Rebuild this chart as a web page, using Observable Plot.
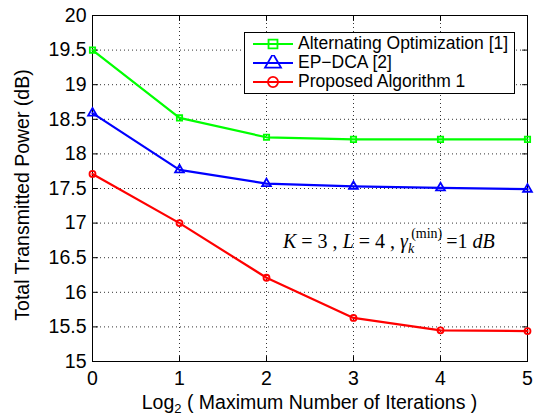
<!DOCTYPE html>
<html>
<head>
<meta charset="utf-8">
<script src="https://cdn.jsdelivr.net/npm/d3@7"></script>
<script src="https://cdn.jsdelivr.net/npm/@observablehq/plot@0.6"></script>
<style>
  body { margin: 0; background: #fff; }
  #chart { position: relative; width: 540px; height: 418px; font-family: "Liberation Sans", Arial, sans-serif; }
  #legend { position: absolute; left: 244px; top: 32px; width: 271px; height: 62px; border: 1px solid #000; background: #fff; box-sizing: border-box; padding-top: 1px; }
  .row { display: flex; align-items: center; height: 19px; font-size: 17.5px; color: #000; }
  .row svg { margin-left: 8px; margin-right: 5px; }
</style>
</head>
<body>
<div id="chart"></div>
<script>
// ---- data ----
const iterations = [0, 1, 2, 3, 4, 5];
const alternatingOpt = [19.5, 18.52, 18.24, 18.21, 18.21, 18.21];
const epDca = [18.59, 17.77, 17.57, 17.53, 17.51, 17.49];
const proposedAlg = [17.71, 17.0, 16.21, 15.63, 15.45, 15.44];
const seriesNames = ["Alternating Optimization [1]", "EP\u2212DCA [2]", "Proposed Algorithm 1"];
const seriesColors = ["#00ff00", "#0000ff", "#ff0000"];
const seriesSymbols = ["square", "triangle", "circle"];
const xTicks = [0, 1, 2, 3, 4, 5];
const yTicks = [15, 15.5, 16, 16.5, 17, 17.5, 18, 18.5, 19, 19.5, 20];
const xLabel = "Log";
const xLabelSub = "2";
const xLabelRest = " ( Maximum Number of Iterations )";
const yLabel = "Total Transmitted Power (dB)";

const allSeries = [alternatingOpt, epDca, proposedAlg];
const rows = [];
allSeries.forEach((vals, s) => vals.forEach((v, i) => rows.push({series: seriesNames[s], x: iterations[i], y: v})));

const tickLine = { draw(ctx, l) { ctx.moveTo(0, 0); ctx.lineTo(0, -l); } };
const tk = {stroke: "#000", strokeWidth: 1, length: 5, anchor: "start", shape: tickLine};

const plot = Plot.plot({
  width: 540, height: 418,
  marginLeft: 92, marginRight: 13, marginTop: 15, marginBottom: 57,
  x: {domain: [0, 5]},
  y: {domain: [15, 20]},
  color: {domain: seriesNames, range: seriesColors},
  symbol: {domain: seriesNames, range: seriesSymbols},
  style: {fontFamily: "'Liberation Sans', Arial, sans-serif", fontSize: "19px", color: "#000", background: "#fff", overflow: "visible"},
  marks: [
    Plot.gridX(xTicks.slice(1, -1), {stroke: "#000", strokeOpacity: 0.8, strokeDasharray: "1,3"}),
    Plot.gridY(yTicks.slice(1, -1), {stroke: "#000", strokeOpacity: 0.8, strokeDasharray: "1,3"}),
    Plot.axisX(xTicks, {tickSize: 0, tickPadding: 10, label: null, fontSize: 19.5, tickFormat: d => String(d)}),
    Plot.axisY(yTicks, {tickSize: 0, tickPadding: 6, label: null, fontSize: 19.5, tickFormat: d => String(d)}),
    Plot.vector(xTicks, {x: d => d, frameAnchor: "bottom", rotate: 0, ...tk}),
    Plot.vector(xTicks, {x: d => d, frameAnchor: "top", rotate: 180, ...tk}),
    Plot.vector(yTicks, {y: d => d, frameAnchor: "left", rotate: 90, ...tk}),
    Plot.vector(yTicks, {y: d => d, frameAnchor: "right", rotate: -90, ...tk}),
    Plot.frame({stroke: "#000", strokeWidth: 1}),
    Plot.line(rows, {x: "x", y: "y", z: "series", stroke: "series", strokeWidth: 2.2}),
    Plot.dot(rows, {x: "x", y: "y", stroke: "series", symbol: "series", r: d => d.series === seriesNames[1] ? 6.5 : 5.5, strokeWidth: 1.8, fill: "none"})
  ]
});

const svg = d3.select(plot);
const xs = plot.scale("x"), ys = plot.scale("y");
const cx = (xs.apply(0) + xs.apply(5)) / 2;
const cy = (ys.apply(15) + ys.apply(20)) / 2;
const xl = svg.append("text").attr("x", cx).attr("y", 409).attr("text-anchor", "middle")
  .attr("font-size", 19.5).attr("fill", "#000");
xl.append("tspan").text(xLabel);
xl.append("tspan").attr("font-size", 13).attr("dy", 4).text(xLabelSub);
xl.append("tspan").attr("dy", -4).text(xLabelRest);
svg.append("text").attr("transform", `translate(29,${cy + 7}) rotate(-90)`).attr("text-anchor", "middle")
  .attr("font-size", 19.5).attr("fill", "#000").text(yLabel);

// annotation
const ann = svg.append("text").attr("x", 283).attr("y", 248).attr("text-anchor", "start")
  .attr("font-family", "'Liberation Serif', 'Times New Roman', serif").attr("font-size", 20)
  .attr("fill", "#000").style("white-space", "pre");
ann.append("tspan").attr("font-style", "italic").text("K");
ann.append("tspan").text(" = 3 , ");
ann.append("tspan").attr("font-style", "italic").text("L");
ann.append("tspan").text(" = 4 , ");
ann.append("tspan").attr("font-style", "italic").text("\u03b3");
ann.append("tspan").attr("font-style", "italic").attr("font-size", 14).attr("dx", 0).attr("dy", 5).text("k");
ann.append("tspan").attr("font-size", 14).attr("dx", -3).attr("dy", -15).text("(min)");
ann.append("tspan").attr("dx", 4).attr("dy", 10).text("=1 ");
ann.append("tspan").attr("font-style", "italic").text("dB");

const chart = document.getElementById("chart");
chart.appendChild(plot);

// legend
const legend = document.createElement("div");
legend.id = "legend";
seriesNames.forEach((name, i) => {
  const row = document.createElement("div");
  row.className = "row";
  const s = d3.create("svg").attr("width", 40).attr("height", 16);
  s.append("line").attr("x1", 0).attr("x2", 40).attr("y1", 8).attr("y2", 8).attr("stroke", seriesColors[i]).attr("stroke-width", 2.2);
  s.append("path").attr("transform", "translate(20,8)")
    .attr("d", d3.symbol(seriesSymbols[i] === "square" ? d3.symbolSquare : seriesSymbols[i] === "triangle" ? d3.symbolTriangle : d3.symbolCircle, i === 1 ? 110 : 80)())
    .attr("fill", "none").attr("stroke", seriesColors[i]).attr("stroke-width", 1.8);
  row.appendChild(s.node());
  const t = document.createElement("span");
  t.textContent = name;
  row.appendChild(t);
  legend.appendChild(row);
});
chart.appendChild(legend);
</script>
</body>
</html>
